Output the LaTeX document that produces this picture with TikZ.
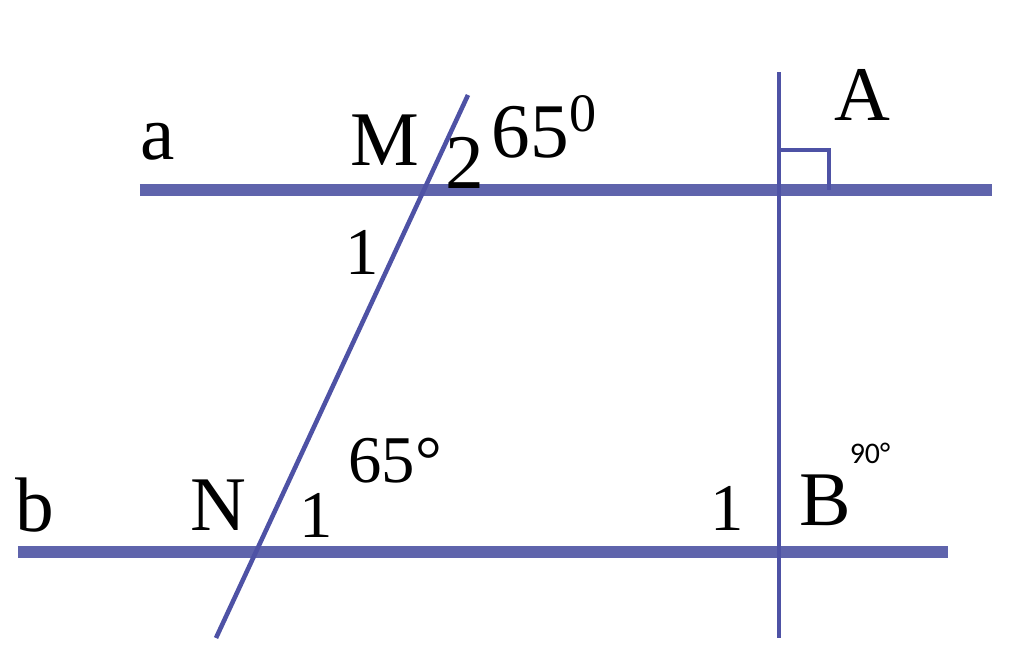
\documentclass[tikz,border=0pt]{standalone}
\usepackage{fontspec}
\setmainfont{Liberation Serif}
\newfontfamily\smallsans{Carlito}
\usepackage{tikz}
\usepackage{tkz-euclide}
\usetikzlibrary{calc}
\definecolor{lineblue}{RGB}{78,82,165}
\definecolor{thickblue}{RGB}{95,100,172}
\tikzset{
  parline/.style={draw=thickblue,line width=3.2pt},
  thinline/.style={draw=lineblue,line width=1.3pt},
  biglabel/.style={inner sep=0pt,font=\fontsize{22}{22}\selectfont},
  numlabel/.style={inner sep=0pt,font=\fontsize{19}{19}\selectfont},
  tinylabel/.style={inner sep=0pt,font=\smallsans\fontsize{8.5}{8.5}\selectfont}
}
\begin{document}
\begin{tikzpicture}
        \useasboundingbox (0,0) rectangle (10.24,6.47);
        \coordinate (a1) at (1.40, 4.57) {};
        \coordinate (a2) at (9.92, 4.57) {};
        \coordinate (b1) at (0.18, 0.95) {};
        \coordinate (b2) at (9.48, 0.95) {};
        \coordinate (T) at (4.68, 5.52) {};
        \coordinate (S) at (2.16, 0.09) {};
        \coordinate (U) at (7.79, 5.75) {};
        \coordinate (D) at (7.79, 0.09) {};
        \coordinate (P) at (7.79, 4.57) {};
        \coordinate (R) at (9.00, 4.57) {};
        \draw[parline] (a1)--(a2);
        \draw[parline] (b1)--(b2);
        \draw[thinline] (S)--(T);
        \draw[thinline] (D)--(U);
        \draw[thinline] (P)--++(0,0.40)--++(0.50,0)--++(0,-0.40);
        \node[biglabel] (la) at (1.58, 5.05) {a};
        \node[biglabel] (lM) at (3.85, 5.07) {M};
        \node[biglabel] (l2) at (4.65, 4.84) {2};
        \node[biglabel] (lang1) at (5.45, 5.20) {65$^{\mathrm{0}}$};
        \node[biglabel] (lA) at (8.62, 5.52) {A};
        \node[numlabel] (l1M) at (3.62, 3.95) {1};
        \node[biglabel] (lb) at (0.35, 1.42) {b};
        \node[biglabel] (lN) at (2.18, 1.42) {N};
        \node[numlabel] (l1N) at (3.16, 1.32) {1};
        \node[numlabel] (lang2) at (3.95, 1.86) {65°};
        \node[numlabel] (l1B) at (7.27, 1.39) {1};
        \node[biglabel] (lB) at (8.25, 1.47) {B};
        \node[tinylabel] (lang3) at (8.70, 1.94) {90°};
\end{tikzpicture}
\end{document}
